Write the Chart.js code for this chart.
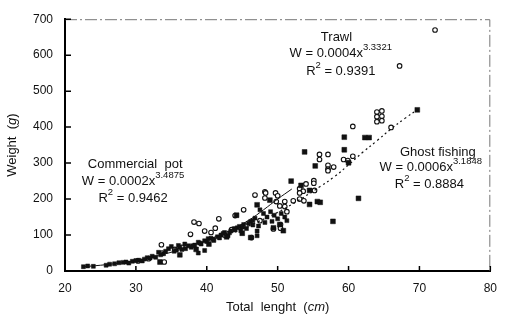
<!DOCTYPE html>
<html>
<head>
<meta charset="utf-8">
<script src="https://cdn.jsdelivr.net/npm/chart.js@4.4.1/dist/chart.umd.min.js"></script>
<style>
  html, body { margin: 0; padding: 0; background: #fff; }
  #wrap { width: 507px; height: 320px; }
</style>
</head>
<body>
<div id="wrap"><canvas id="lwChart"></canvas></div>
<script>
// Length-weight data (x = total length cm, y = weight g)
const trawlX = [30.3, 31.8, 33.6, 33.7, 34.0, 35.5, 36.5, 37.7, 38.2, 38.9, 39.7, 40.6, 41.2, 41.7, 42.5, 43.5, 44.0, 45.2, 45.5, 46.3,
  46.8, 47.5, 48.2, 48.2, 48.3, 49.4, 49.7, 49.8, 50.0, 50.3, 50.4, 50.4, 51.0, 51.0, 51.3, 52.2, 53.1, 53.1, 53.6, 53.1,
  53.7, 54.0, 55.1, 55.1, 55.2, 55.9, 57.1, 55.9, 57.1, 57.9, 57.1, 57.1, 59.3, 59.9, 60.6, 60.6, 64.0, 64.0, 64.0, 64.7,
  64.7, 64.7, 66.0, 67.2, 72.2];
const trawlY = [28, 34, 73, 50, 25, 60, 66, 102, 136, 132, 111, 107, 119, 145, 100, 115, 154, 170, 125, 93,
  211, 140, 220, 203, 217, 117, 217, 193, 209, 181, 129, 119, 193, 179, 165, 195, 200, 229, 222, 217,
  195, 242, 251, 244, 224, 324, 324, 310, 294, 289, 283, 279, 310, 307, 319, 402, 442, 429, 415, 445,
  430, 418, 399, 570, 670];

const potX = [22.6, 23.2, 24.0, 25.8, 26.3, 27.0, 27.6, 28.6, 29.0, 29.5, 30.4, 30.9, 31.6, 32.3, 32.8, 33.2, 33.9, 34.6, 35.0, 35.4,
  36.0, 36.5, 36.9, 37.4, 37.8, 38.3, 38.8, 38.8, 39.2, 39.7, 39.7, 40.2, 40.6, 41.0, 41.5, 42.0, 42.5, 43.0, 43.4, 43.9,
  44.3, 44.8, 45.2, 45.6, 46.2, 46.5, 46.8, 47.3, 47.5, 48.0, 48.5, 48.2, 49.0, 49.2, 49.5, 50.0, 50.5, 51.0, 51.3, 47.1, 47.1,
  28.2, 30.0, 31.2, 32.0, 33.5, 34.2, 35.7, 36.2, 37.0, 38.0, 39.0, 40.0, 40.9, 41.8, 42.3, 43.2, 44.0, 44.6, 45.0, 45.9, 46.5];
const potY = [12, 14, 13, 16, 19, 20, 23, 25, 22, 27, 30, 28, 37, 41, 38, 52, 48, 62, 68, 55,
  71, 60, 75, 70, 66, 72, 80, 50, 75, 84, 57, 90, 91, 85, 95, 100, 107, 98, 111, 118,
  120, 112, 129, 118, 138, 128, 147, 125, 170, 160, 150, 135, 165, 138, 155, 145, 160, 150, 140, 98, 111,
  24, 29, 33, 36, 45, 55, 58, 66, 62, 70, 78, 82, 88, 92, 104, 106, 114, 124, 122, 133, 140];

const ghostX = [33.4, 36.2, 38.5, 40.3, 42.8, 44.2, 45.0, 46.2, 47.1, 48.9, 49.4, 50.3, 50.8, 51.9, 53.3, 53.8, 54.5, 54.5, 55.3, 55.6,
  56.0, 57.8, 59.4, 59.4, 60.0, 61.4, 62.3, 62.9, 69.7];
const ghostY = [25, 45, 60, 75, 95, 155, 105, 93, 184, 197, 120, 129, 112, 250, 238, 331, 224, 185, 292, 193,
  191, 138, 372, 337, 301, 202, 371, 371, 448];

// fitted curves as drawn in the figure
const potLineX = [22.5, 25, 28, 31, 34, 37, 40, 43, 46, 48, 50, 52];
const potLineY = [12, 16, 23, 33, 47, 64, 86, 110, 142, 170, 200, 228];
const ghostLineX = [44, 47, 50, 53, 56, 58, 60, 62, 64, 66, 68, 69.7];
const ghostLineY = [108, 135, 163, 197, 235, 262, 295, 330, 362, 395, 425, 448];

const xTicks = [20, 30, 40, 50, 60, 70, 80];
const yTicks = [0, 100, 200, 300, 400, 500, 600, 700];

const FONT = '"Liberation Sans", Arial, Helvetica, sans-serif';
const pts = (xs, ys) => xs.map((x, i) => ({ x: x, y: ys[i] }));

// text drawn by hand: equations with superscripts and italic units
const notes = [
  { x: 29.9, y: 296, parts: [['Commercial  pot']] },
  { x: 29.6, y: 248, parts: [['W = 0.0002x'], ['3.4875', 'sup']] },
  { x: 29.6, y: 201, parts: [['R'], ['2', 'sup'], [' = 0.9462']] },
  { x: 58.3, y: 648, parts: [['Trawl']] },
  { x: 58.9, y: 604, parts: [['W = 0.0004x'], ['3.3321', 'sup']] },
  { x: 58.9, y: 556, parts: [['R'], ['2', 'sup'], [' = 0.9391']] },
  { x: 72.6, y: 329, parts: [['Ghost fishing']] },
  { x: 71.6, y: 289, parts: [['W = 0.0006x'], ['3.1848', 'sup']] },
  { x: 71.4, y: 241, parts: [['R'], ['2', 'sup'], [' = 0.8884']] }
];

function fontFor(kind) {
  if (kind === 'sup') return '9.5px ' + FONT;
  if (kind === 'it') return 'italic 13px ' + FONT;
  return '13px ' + FONT;
}

function drawParts(ctx, cx, cy, parts) {
  let total = 0;
  parts.forEach(p => { ctx.font = fontFor(p[1]); total += ctx.measureText(p[0]).width; });
  let x = cx - total / 2;
  parts.forEach(p => {
    ctx.font = fontFor(p[1]);
    ctx.fillText(p[0], x, cy + (p[1] === 'sup' ? -6 : 0));
    x += ctx.measureText(p[0]).width;
  });
}

const decorations = {
  id: 'decorations',
  afterDraw(chart) {
    const { ctx, chartArea: a, scales: { x, y } } = chart;
    ctx.save();
    // faint dashed top and right frame
    ctx.strokeStyle = '#777';
    ctx.lineWidth = 1;
    ctx.setLineDash([12, 3, 2, 3]);
    ctx.beginPath();
    ctx.moveTo(a.left, a.top + 0.5);
    ctx.lineTo(a.right - 0.5, a.top + 0.5);
    ctx.lineTo(a.right - 0.5, a.bottom);
    ctx.stroke();
    ctx.setLineDash([]);
    // inward tick marks
    ctx.strokeStyle = '#000';
    ctx.lineWidth = 1.5;
    ctx.beginPath();
    xTicks.forEach(v => {
      const px = x.getPixelForValue(v);
      ctx.moveTo(px, a.bottom);
      ctx.lineTo(px, a.bottom - 5);
    });
    yTicks.forEach(v => {
      const py = y.getPixelForValue(v);
      ctx.moveTo(a.left, py);
      ctx.lineTo(a.left + 6, py);
    });
    ctx.stroke();
    // annotations
    ctx.fillStyle = '#111';
    ctx.textAlign = 'left';
    ctx.textBaseline = 'middle';
    notes.forEach(n => drawParts(ctx, x.getPixelForValue(n.x), y.getPixelForValue(n.y), n.parts));
    // axis titles
    drawParts(ctx, (a.left + a.right) / 2, 307, [['Total  lenght  ('], ['cm', 'it'], [')']]);
    ctx.translate(12, (a.top + a.bottom) / 2);
    ctx.rotate(-Math.PI / 2);
    drawParts(ctx, 0, 0, [['Weight  ('], ['g', 'it'], [')']]);
    ctx.restore();
  }
};

const ctx = document.getElementById('lwChart').getContext('2d');
const lwChart = new Chart(ctx, {
  type: 'scatter',
  data: {
    datasets: [
      {
        label: 'Commercial pot fit',
        type: 'line',
        data: pts(potLineX, potLineY),
        borderColor: '#111',
        borderWidth: 1,
        pointRadius: 0,
        tension: 0.4,
        fill: false
      },
      {
        label: 'Ghost fishing fit',
        type: 'line',
        data: pts(ghostLineX, ghostLineY),
        borderColor: '#111',
        borderWidth: 1.2,
        borderDash: [2, 3],
        pointRadius: 0,
        tension: 0.4,
        fill: false
      },
      {
        label: 'Commercial pot',
        data: pts(potX, potY),
        pointStyle: 'rect',
        pointRadius: 2.8,
        backgroundColor: '#111',
        borderColor: '#111',
        borderWidth: 0.5
      },
      {
        label: 'Ghost fishing',
        data: pts(ghostX, ghostY),
        pointStyle: 'rect',
        pointRadius: 3.4,
        backgroundColor: '#111',
        borderColor: '#111',
        borderWidth: 0.5
      },
      {
        label: 'Trawl',
        data: pts(trawlX, trawlY),
        pointStyle: 'circle',
        pointRadius: 2.3,
        backgroundColor: '#fff',
        borderColor: '#111',
        borderWidth: 1.1
      }
    ]
  },
  options: {
    responsive: true,
    maintainAspectRatio: false,
    animation: false,
    layout: { padding: { top: 13, right: 10, left: 0, bottom: 0 } },
    plugins: {
      legend: { display: false },
      tooltip: { enabled: false }
    },
    scales: {
      x: {
        type: 'linear',
        min: 20,
        max: 80,
        afterFit: s => { s.height = 49; },
        afterBuildTicks: s => { s.ticks = xTicks.map(v => ({ value: v })); },
        grid: { display: false, drawTicks: false },
        border: { color: '#000', width: 2 },
        ticks: { padding: 10, color: '#111', font: { family: FONT, size: 12 } }
      },
      y: {
        type: 'linear',
        min: 0,
        max: 700,
        afterFit: s => { s.width = 65; },
        afterBuildTicks: s => { s.ticks = yTicks.map(v => ({ value: v })); },
        grid: { display: false, drawTicks: false },
        border: { color: '#000', width: 2 },
        ticks: { padding: 12, color: '#111', font: { family: FONT, size: 12 } }
      }
    }
  },
  plugins: [decorations]
});
</script>
</body>
</html>
